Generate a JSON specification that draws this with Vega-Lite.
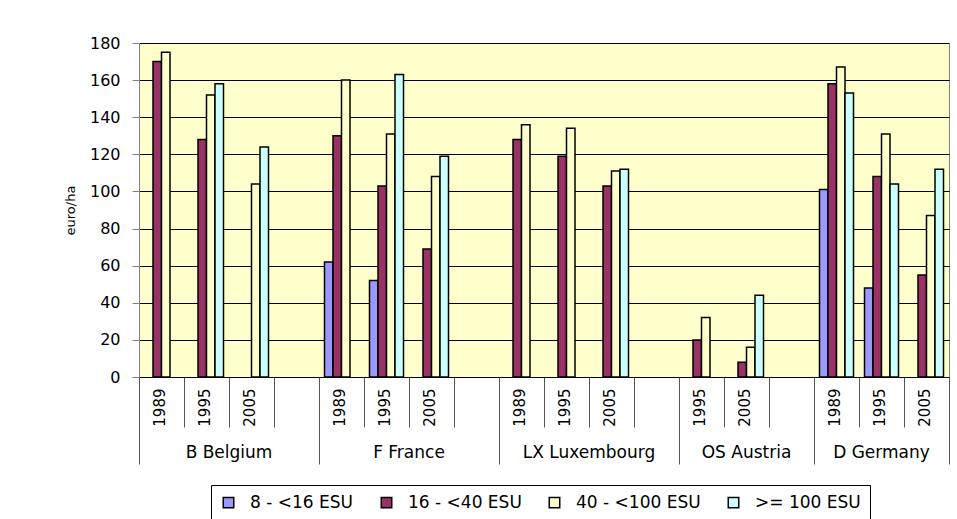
{
  "$schema": "https://vega.github.io/schema/vega-lite/v6.json",
  "width": 810,
  "height": 334,
  "autosize": {"type": "none"},
  "padding": {"left": 139, "top": 43, "right": 8, "bottom": 142},
  "background": "white",
  "config": {
    "font": "DejaVu Sans",
    "view": {"fill": "#FFFFCC", "stroke": "#808080", "strokeWidth": 1},
    "axis": {"labelColor": "black", "titleColor": "black", "labelFont": "DejaVu Sans", "titleFont": "DejaVu Sans"}
  },
  "data": {
    "values": [
      {"slot": "B1989", "country": "B Belgium", "year": "1989", "size": "16 - <40 ESU", "value": 170},
      {"slot": "B1989", "country": "B Belgium", "year": "1989", "size": "40 - <100 ESU", "value": 175},
      {"slot": "B1995", "country": "B Belgium", "year": "1995", "size": "16 - <40 ESU", "value": 128},
      {"slot": "B1995", "country": "B Belgium", "year": "1995", "size": "40 - <100 ESU", "value": 152},
      {"slot": "B1995", "country": "B Belgium", "year": "1995", "size": ">= 100 ESU", "value": 158},
      {"slot": "B2005", "country": "B Belgium", "year": "2005", "size": "40 - <100 ESU", "value": 104},
      {"slot": "B2005", "country": "B Belgium", "year": "2005", "size": ">= 100 ESU", "value": 124},
      {"slot": "F1989", "country": "F France", "year": "1989", "size": "8 - <16 ESU", "value": 62},
      {"slot": "F1989", "country": "F France", "year": "1989", "size": "16 - <40 ESU", "value": 130},
      {"slot": "F1989", "country": "F France", "year": "1989", "size": "40 - <100 ESU", "value": 160},
      {"slot": "F1995", "country": "F France", "year": "1995", "size": "8 - <16 ESU", "value": 52},
      {"slot": "F1995", "country": "F France", "year": "1995", "size": "16 - <40 ESU", "value": 103},
      {"slot": "F1995", "country": "F France", "year": "1995", "size": "40 - <100 ESU", "value": 131},
      {"slot": "F1995", "country": "F France", "year": "1995", "size": ">= 100 ESU", "value": 163},
      {"slot": "F2005", "country": "F France", "year": "2005", "size": "16 - <40 ESU", "value": 69},
      {"slot": "F2005", "country": "F France", "year": "2005", "size": "40 - <100 ESU", "value": 108},
      {"slot": "F2005", "country": "F France", "year": "2005", "size": ">= 100 ESU", "value": 119},
      {"slot": "L1989", "country": "LX Luxembourg", "year": "1989", "size": "16 - <40 ESU", "value": 128},
      {"slot": "L1989", "country": "LX Luxembourg", "year": "1989", "size": "40 - <100 ESU", "value": 136},
      {"slot": "L1995", "country": "LX Luxembourg", "year": "1995", "size": "16 - <40 ESU", "value": 119},
      {"slot": "L1995", "country": "LX Luxembourg", "year": "1995", "size": "40 - <100 ESU", "value": 134},
      {"slot": "L2005", "country": "LX Luxembourg", "year": "2005", "size": "16 - <40 ESU", "value": 103},
      {"slot": "L2005", "country": "LX Luxembourg", "year": "2005", "size": "40 - <100 ESU", "value": 111},
      {"slot": "L2005", "country": "LX Luxembourg", "year": "2005", "size": ">= 100 ESU", "value": 112},
      {"slot": "A1995", "country": "OS Austria", "year": "1995", "size": "16 - <40 ESU", "value": 20},
      {"slot": "A1995", "country": "OS Austria", "year": "1995", "size": "40 - <100 ESU", "value": 32},
      {"slot": "A2005", "country": "OS Austria", "year": "2005", "size": "16 - <40 ESU", "value": 8},
      {"slot": "A2005", "country": "OS Austria", "year": "2005", "size": "40 - <100 ESU", "value": 16},
      {"slot": "A2005", "country": "OS Austria", "year": "2005", "size": ">= 100 ESU", "value": 44},
      {"slot": "D1989", "country": "D Germany", "year": "1989", "size": "8 - <16 ESU", "value": 101},
      {"slot": "D1989", "country": "D Germany", "year": "1989", "size": "16 - <40 ESU", "value": 158},
      {"slot": "D1989", "country": "D Germany", "year": "1989", "size": "40 - <100 ESU", "value": 167},
      {"slot": "D1989", "country": "D Germany", "year": "1989", "size": ">= 100 ESU", "value": 153},
      {"slot": "D1995", "country": "D Germany", "year": "1995", "size": "8 - <16 ESU", "value": 48},
      {"slot": "D1995", "country": "D Germany", "year": "1995", "size": "16 - <40 ESU", "value": 108},
      {"slot": "D1995", "country": "D Germany", "year": "1995", "size": "40 - <100 ESU", "value": 131},
      {"slot": "D1995", "country": "D Germany", "year": "1995", "size": ">= 100 ESU", "value": 104},
      {"slot": "D2005", "country": "D Germany", "year": "2005", "size": "16 - <40 ESU", "value": 55},
      {"slot": "D2005", "country": "D Germany", "year": "2005", "size": "40 - <100 ESU", "value": 87},
      {"slot": "D2005", "country": "D Germany", "year": "2005", "size": ">= 100 ESU", "value": 112}
    ]
  },
  "layer": [
    {
      "mark": {"type": "bar", "stroke": "black", "strokeWidth": 1.5},
      "encoding": {
        "x": {
          "field": "slot", "type": "nominal",
          "scale": {"domain": ["B1989","B1995","B2005","Bx","F1989","F1995","F2005","Fx","L1989","L1995","L2005","Lx","A1995","A2005","Ax","D1989","D1995","D2005"], "paddingInner": 0, "paddingOuter": 0},
          "axis": {
            "orient": "bottom", "title": null, "bandPosition": 0, "tickSize": 50, "tickColor": "#555", "tickWidth": 1,
            "domainColor": "black", "domainWidth": 1,
            "labelExpr": "length(datum.value) == 5 ? substring(datum.value, 1) : ''",
            "labelOffset": -2,
            "labelAngle": 270, "labelAlign": "right", "labelBaseline": "middle",
            "labelFontSize": 15, "labelPadding": -39, "labelOverlap": false, "labelBound": false, "labelFlush": false
          }
        },
        "xOffset": {
          "field": "size", "type": "nominal",
          "scale": {"domain": ["8 - <16 ESU","16 - <40 ESU","40 - <100 ESU",">= 100 ESU"], "paddingInner": 0, "paddingOuter": 0.647}
        },
        "y": {
          "field": "value", "type": "quantitative",
          "scale": {"domain": [0, 180], "nice": false},
          "axis": {
            "title": "euro/ha", "titleFontSize": 13, "titleFontWeight": "normal", "titlePadding": 12,
            "values": [0,20,40,60,80,100,120,140,160,180],
            "grid": true, "gridColor": "black", "gridWidth": 1, "gridOpacity": 1,
            "domainColor": "#808080", "tickColor": "#808080", "tickSize": 7,
            "labelFontSize": 16, "labelPadding": 12
          }
        },
        "color": {
          "field": "size", "type": "nominal",
          "scale": {"domain": ["8 - <16 ESU","16 - <40 ESU","40 - <100 ESU",">= 100 ESU"], "range": ["#9999FF","#993366","#FFFFCC","#CCFFFF"]},
          "legend": {
            "title": null, "orient": "none", "legendX": 72, "legendY": 442, "direction": "horizontal",
            "symbolType": "square", "symbolSize": 110, "symbolStrokeColor": "black", "symbolStrokeWidth": 1.5,
            "labelFontSize": 17, "labelFont": "DejaVu Sans", "labelColor": "black", "labelOffset": 13,
            "columnPadding": 24, "padding": 9, "strokeColor": "black", "fillColor": "white", "labelLimit": 300
          }
        }
      }
    },
    {
      "mark": {"type": "text"},
      "encoding": {
        "x": {
          "field": "slot", "type": "nominal",
          "scale": {"domain": ["B1989","B1995","B2005","Bx","F1989","F1995","F2005","Fx","L1989","L1995","L2005","Lx","A1995","A2005","Ax","D1989","D1995","D2005"], "paddingInner": 0, "paddingOuter": 0},
          "axis": {
            "orient": "bottom", "title": null, "domain": false, "bandPosition": 0,
            "values": ["B1989","F1989","L1989"],
            "tickSize": 87, "tickColor": "#555", "tickWidth": 1,
            "labelExpr": "datum.value == 'B1989' ? 'B Belgium' : datum.value == 'F1989' ? 'F France' : 'LX Luxembourg'",
            "labelOffset": 67.5,
            "labelAngle": 0, "labelAlign": "center", "labelBaseline": "top",
            "labelFontSize": 17, "labelPadding": -20, "labelOverlap": false, "labelBound": false, "labelFlush": false
          }
        }
      }
    },
    {
      "mark": {"type": "text"},
      "encoding": {
        "x": {
          "field": "slot", "type": "nominal",
          "scale": {"domain": ["B1989","B1995","B2005","Bx","F1989","F1995","F2005","Fx","L1989","L1995","L2005","Lx","A1995","A2005","Ax","D1989","D1995","D2005"], "paddingInner": 0, "paddingOuter": 0},
          "axis": {
            "orient": "bottom", "title": null, "domain": false, "bandPosition": 0,
            "values": ["A1995","D1989"],
            "tickSize": 87, "tickColor": "#555", "tickWidth": 1,
            "labelExpr": "datum.value == 'A1995' ? 'OS Austria' : 'D Germany'",
            "labelOffset": 45,
            "labelAngle": 0, "labelAlign": "center", "labelBaseline": "top",
            "labelFontSize": 17, "labelPadding": -20, "labelOverlap": false, "labelBound": false, "labelFlush": false
          }
        }
      }
    },
    {
      "mark": {"type": "text"},
      "encoding": {
        "x": {
          "field": "slot", "type": "nominal",
          "scale": {"domain": ["B1989","B1995","B2005","Bx","F1989","F1995","F2005","Fx","L1989","L1995","L2005","Lx","A1995","A2005","Ax","D1989","D1995","D2005"], "paddingInner": 0, "paddingOuter": 0},
          "axis": {
            "orient": "bottom", "title": null, "domain": false, "bandPosition": 1, "values": ["D2005"],
            "tickSize": 87, "tickColor": "#555", "tickWidth": 1, "labels": false
          }
        }
      }
    }
  ],
  "resolve": {"axis": {"x": "independent"}}
}
